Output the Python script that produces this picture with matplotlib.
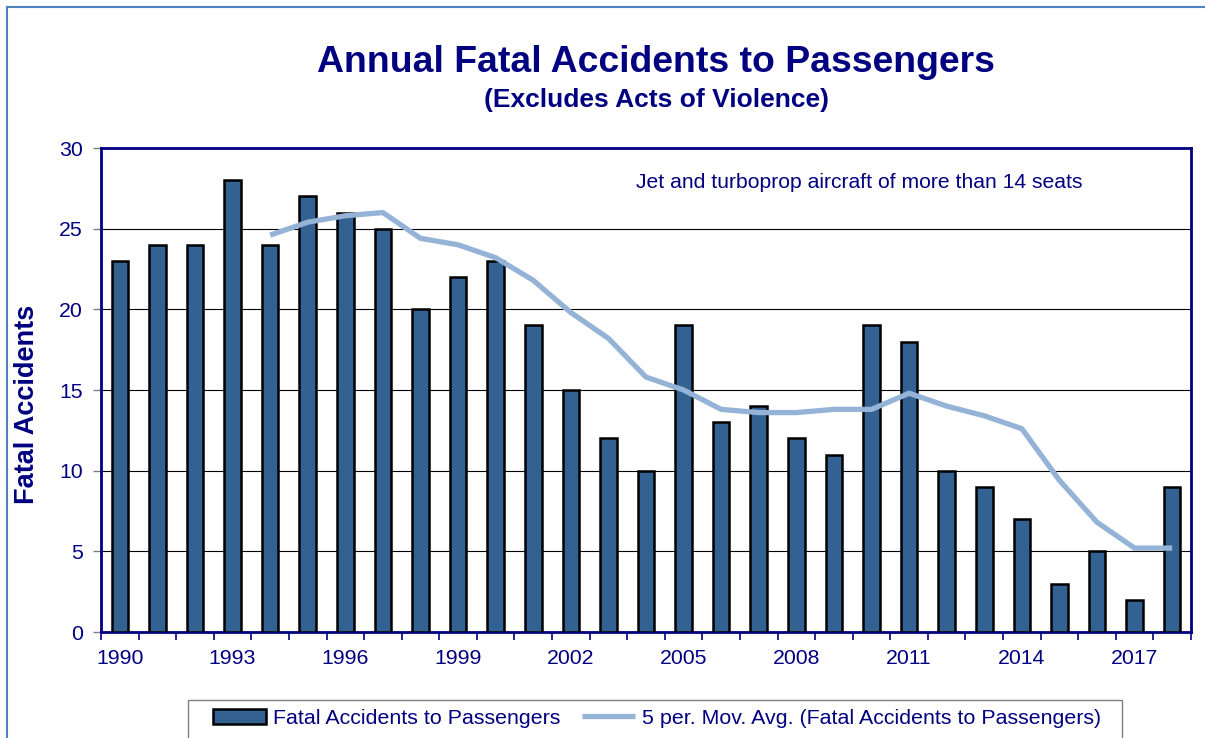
import numpy as np
import matplotlib.pyplot as plt
from matplotlib.ticker import FixedLocator

years = list(range(1990, 2019))
accidents = [23, 24, 24, 28, 24, 27, 26, 25, 20, 22, 23, 19, 15, 12, 10,
             19, 13, 14, 12, 11, 19, 18, 10, 9, 7, 3, 5, 2, 9]
# 5-period moving average (starts at 1994)
mov_avg_years = list(range(1994, 2019))
mov_avg = [24.6, 25.4, 25.8, 26.0, 24.4, 24.0, 23.2, 21.8, 19.8, 18.2, 15.8,
           15.0, 13.8, 13.6, 13.6, 13.8, 13.8, 14.8, 14.0, 13.4, 12.6, 9.4,
           6.8, 5.2, 5.2]

navy = "#000080"
bar_color = "#336192"
line_color = "#95B3D7"

plt.rcParams['font.family'] = ['Liberation Sans', 'DejaVu Sans']

fig = plt.figure(figsize=(12.05, 7.38), dpi=100)
W, H = 1205, 738
ax = fig.add_axes([101 / W, 1 - 632 / H, (1191 - 101) / W, (632 - 148) / H])

x = np.arange(len(years))
bars = ax.bar(x, accidents, width=0.44, color=bar_color, edgecolor="black",
              linewidth=1.8, zorder=3, label="Fatal Accidents to Passengers")
xm = np.array([years.index(y) for y in mov_avg_years])
line, = ax.plot(xm, mov_avg, color=line_color, linewidth=3.8, solid_capstyle="butt",
                zorder=4, label="5 per. Mov. Avg. (Fatal Accidents to Passengers)")

ax.set_xlim(-0.5, len(years) - 0.5)
ax.set_ylim(0, 30)
ax.set_yticks(range(0, 31, 5))
ax.yaxis.grid(True, color="black", linewidth=0.8, zorder=0)
ax.set_axisbelow(True)

ax.set_xticks(x[::3])
ax.set_xticklabels([str(y) for y in years[::3]])
ax.xaxis.set_minor_locator(FixedLocator(np.arange(-0.5, len(years), 1)))
ax.tick_params(axis="x", which="major", length=0, pad=12)
ax.tick_params(axis="x", which="minor", length=6, width=1.2, color=navy)
ax.tick_params(axis="y", length=6, width=1, color="#808080", pad=7)
ax.tick_params(labelsize=15.3, labelcolor=navy)

for s in ax.spines.values():
    s.set_color(navy)
    s.set_linewidth(2)

ax.set_ylabel("Fatal Accidents", fontsize=19.5, fontweight="bold", color=navy)
ax.yaxis.set_label_coords(-0.056, 0.471)
ax.text(0.491, 0.928, "Jet and turboprop aircraft of more than 14 seats",
        transform=ax.transAxes, fontsize=15.2, color=navy, va="center")

fig.text(656 / W, 1 - 62 / H, "Annual Fatal Accidents to Passengers",
         fontsize=26.9, fontweight="bold", color=navy, ha="center", va="center")
fig.text(656 / W, 1 - 100 / H, "(Excludes Acts of Violence)",
         fontsize=19, fontweight="bold", color=navy, ha="center", va="center")

# legend frame drawn separately so it can run off the bottom edge
fig.add_artist(plt.Rectangle((188 / W, -10 / H), (1122 - 188) / W, (738 - 700 + 10) / H,
                             transform=fig.transFigure, facecolor="white",
                             edgecolor="#808080", linewidth=1))
leg = fig.legend(handles=[bars, line], loc="center left",
                 bbox_to_anchor=(213 / W, 1 - 718 / H), ncol=2, frameon=False,
                 fontsize=15.4, handlelength=2.5, handletextpad=0.3,
                 columnspacing=1.0, borderpad=0, borderaxespad=0)
for t in leg.get_texts():
    t.set_color(navy)

# outer chart border (left and top visible)
fig.add_artist(plt.Line2D([7 / W, 7 / W], [0, 1 - 7 / H], color="#4F81BD",
                          linewidth=1.5, transform=fig.transFigure))
fig.add_artist(plt.Line2D([7 / W, 1], [1 - 7 / H, 1 - 7 / H], color="#4F81BD",
                          linewidth=1.5, transform=fig.transFigure))

fig.savefig("out.png", dpi=100)
